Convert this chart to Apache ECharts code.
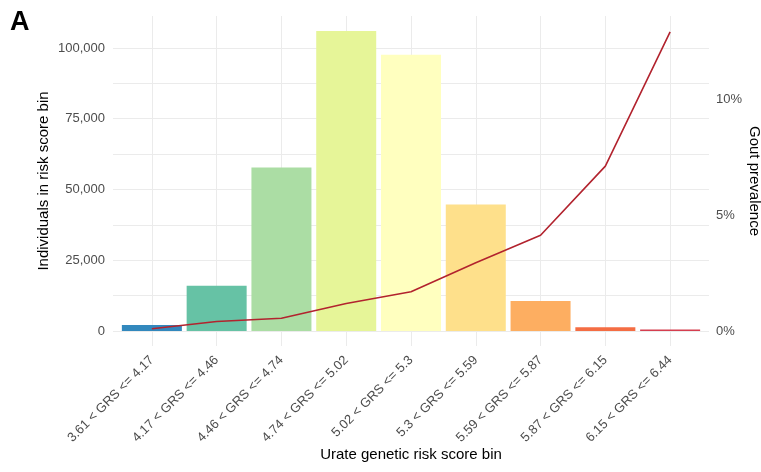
<!DOCTYPE html>
<html>
<head>
<meta charset="utf-8">
<script src="https://cdn.jsdelivr.net/npm/echarts@6/dist/echarts.min.js"></script>
<style>
html,body{margin:0;padding:0;background:#fff;}
#chart{width:761px;height:472px;}
</style>
</head>
<body>
<div id="chart"></div>
<script>
const categories = ["3.61 < GRS <= 4.17","4.17 < GRS <= 4.46","4.46 < GRS <= 4.74","4.74 < GRS <= 5.02","5.02 < GRS <= 5.3","5.3 < GRS <= 5.59","5.59 < GRS <= 5.87","5.87 < GRS <= 6.15","6.15 < GRS <= 6.44"];
const counts = [2100, 16000, 57800, 106000, 97600, 44700, 10600, 1300, 500];
const prevalence = [0.1, 0.41, 0.55, 1.19, 1.7, 2.95, 4.14, 7.13, 12.93];
const barColors = ["#3288BD","#66C2A5","#ABDDA4","#E6F598","#FFFFBF","#FEE08B","#FDAE61","#F46D43","#D53E4F"];
const countTicks = [0, 25000, 50000, 75000, 100000];
const countGrid = [0, 12500, 25000, 37500, 50000, 62500, 75000, 87500, 100000];
const prevTicks = [0, 5, 10];

const yMin = -5300, yMax = 111300;
const perPercent = 8172;
const idx = categories.map((c, i) => i);

const chart = echarts.init(document.getElementById('chart'), null, {renderer: 'canvas'});
const labelColor = '#4D4D4D';
const font = 'Liberation Sans, Arial, sans-serif';
chart.setOption({
  animation: false,
  backgroundColor: '#fff',
  title: {text: 'A', left: 5, top: 4, textStyle: {fontSize: 27, fontWeight: 'bold', color: '#000', fontFamily: font}},
  grid: {left: 113, right: 52, top: 16, bottom: 126, containLabel: false, outerBoundsMode: 'none'},
  xAxis: {
    type: 'value', min: -0.6, max: 8.6,
    name: 'Urate genetic risk score bin', nameLocation: 'middle', nameGap: 101, nameMoveOverlap: false,
    nameTextStyle: {fontSize: 15, color: '#000', fontFamily: font},
    axisLine: {show: false},
    axisTick: {show: false, customValues: idx},
    axisLabel: {customValues: idx, rotate: 45, margin: 12, fontSize: 13, color: labelColor, fontFamily: font,
      formatter: v => categories[Math.round(v)]},
    splitLine: {show: true, lineStyle: {color: '#EBEBEB', width: 1}}
  },
  yAxis: [{
    type: 'value', min: yMin, max: yMax, position: 'left',
    name: 'Individuals in risk score bin', nameLocation: 'middle', nameGap: 62, nameMoveOverlap: false,
    nameTextStyle: {fontSize: 15, color: '#000', fontFamily: font},
    axisLine: {show: false},
    axisTick: {show: false, customValues: countGrid},
    axisLabel: {customValues: countTicks, margin: 8, fontSize: 13, color: labelColor, fontFamily: font,
      formatter: v => v.toLocaleString('en-US')},
    splitLine: {show: true, lineStyle: {color: '#EBEBEB', width: 1}}
  }, {
    type: 'value', min: yMin / perPercent, max: yMax / perPercent, position: 'right',
    name: 'Gout prevalence', nameLocation: 'middle', nameGap: 38, nameRotate: -90, nameMoveOverlap: false,
    nameTextStyle: {fontSize: 15, color: '#000', fontFamily: font},
    axisLine: {show: false},
    axisTick: {show: false, customValues: prevTicks},
    axisLabel: {customValues: prevTicks, margin: 7, fontSize: 13, color: labelColor, fontFamily: font,
      formatter: v => Math.round(v) + '%'},
    splitLine: {show: false}
  }],
  series: [{
    type: 'bar', xAxisIndex: 0, yAxisIndex: 0, barWidth: 60,
    data: counts.map((v, i) => ({value: [i, v], itemStyle: {color: barColors[i]}}))
  }, {
    type: 'line', xAxisIndex: 0, yAxisIndex: 1, symbol: 'none',
    lineStyle: {color: '#B2232E', width: 1.6},
    data: prevalence.map((v, i) => [i, v])
  }]
});
</script>
</body>
</html>
